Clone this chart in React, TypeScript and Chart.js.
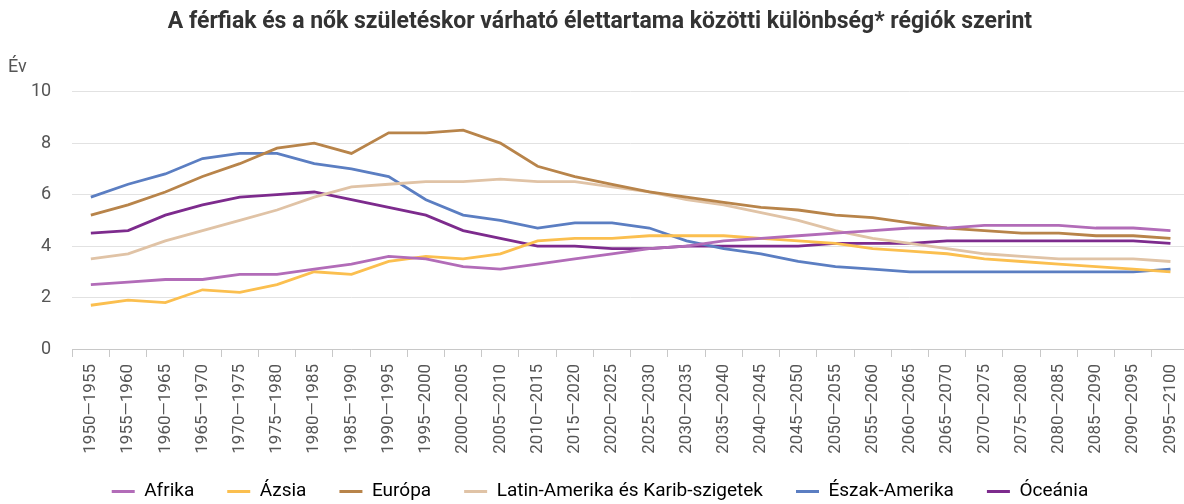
import React, { useEffect, useRef } from "react";
import { Chart, registerables } from "chart.js";

Chart.register(...registerables);

const periods = [
  "1950—1955", "1955—1960", "1960—1965", "1965—1970", "1970—1975", "1975—1980",
  "1980—1985", "1985—1990", "1990—1995", "1995—2000", "2000—2005", "2005—2010",
  "2010—2015", "2015—2020", "2020—2025", "2025—2030", "2030—2035", "2035—2040",
  "2040—2045", "2045—2050", "2050—2055", "2055—2060", "2060—2065", "2065—2070",
  "2070—2075", "2075—2080", "2080—2085", "2085—2090", "2090—2095", "2095—2100",
];

const afrika = [2.5, 2.6, 2.7, 2.7, 2.9, 2.9, 3.1, 3.3, 3.6, 3.5, 3.2, 3.1, 3.3, 3.5, 3.7, 3.9, 4.0, 4.2, 4.3, 4.4, 4.5, 4.6, 4.7, 4.7, 4.8, 4.8, 4.8, 4.7, 4.7, 4.6];
const azsia = [1.7, 1.9, 1.8, 2.3, 2.2, 2.5, 3.0, 2.9, 3.4, 3.6, 3.5, 3.7, 4.2, 4.3, 4.3, 4.4, 4.4, 4.4, 4.3, 4.2, 4.1, 3.9, 3.8, 3.7, 3.5, 3.4, 3.3, 3.2, 3.1, 3.0];
const europa = [5.2, 5.6, 6.1, 6.7, 7.2, 7.8, 8.0, 7.6, 8.4, 8.4, 8.5, 8.0, 7.1, 6.7, 6.4, 6.1, 5.9, 5.7, 5.5, 5.4, 5.2, 5.1, 4.9, 4.7, 4.6, 4.5, 4.5, 4.4, 4.4, 4.3];
const latinAmerika = [3.5, 3.7, 4.2, 4.6, 5.0, 5.4, 5.9, 6.3, 6.4, 6.5, 6.5, 6.6, 6.5, 6.5, 6.3, 6.1, 5.8, 5.6, 5.3, 5.0, 4.6, 4.3, 4.1, 3.9, 3.7, 3.6, 3.5, 3.5, 3.5, 3.4];
const eszakAmerika = [5.9, 6.4, 6.8, 7.4, 7.6, 7.6, 7.2, 7.0, 6.7, 5.8, 5.2, 5.0, 4.7, 4.9, 4.9, 4.7, 4.2, 3.9, 3.7, 3.4, 3.2, 3.1, 3.0, 3.0, 3.0, 3.0, 3.0, 3.0, 3.0, 3.1];
const oceania = [4.5, 4.6, 5.2, 5.6, 5.9, 6.0, 6.1, 5.8, 5.5, 5.2, 4.6, 4.3, 4.0, 4.0, 3.9, 3.9, 4.0, 4.0, 4.0, 4.0, 4.1, 4.1, 4.1, 4.2, 4.2, 4.2, 4.2, 4.2, 4.2, 4.1];

const seriesNames = ["Afrika", "Ázsia", "Európa", "Latin-Amerika és Karib-szigetek", "Észak-Amerika", "Óceánia"];
const seriesColors = ["#b26cb8", "#fbbf4f", "#b8844a", "#e0c3a6", "#5b7ec2", "#7d2b8d"];

const titleText = "A férfiak és a nők születéskor várható élettartama közötti különbség* régiók szerint";
const yUnit = "Év";
const yMin = 0;
const yMax = 10;
const yStep = 2;

const FONT = "Roboto, sans-serif";

export default function App() {
  const ref = useRef<HTMLCanvasElement>(null);

  useEffect(() => {
    if (!ref.current) return;
    const values = [afrika, azsia, europa, latinAmerika, eszakAmerika, oceania];

    const legendFix = {
      id: "legendFix",
      beforeInit(chart: any) {
        const legend = chart.legend;
        if (!legend) return;
        const origFit = legend.fit;
        legend.fit = function () {
          origFit.call(this);
          this.height = 43;
        };
        const origDraw = legend._draw;
        legend._draw = function (...args: any[]) {
          const c = this.ctx;
          c.save();
          c.translate(0, -12);
          origDraw.apply(this, args);
          c.restore();
        };
      },
    };

    const unitLabel = {
      id: "unitLabel",
      afterDraw(chart: any) {
        const c = chart.ctx;
        c.save();
        c.font = `18px ${FONT}`;
        c.fillStyle = "#555";
        c.textAlign = "left";
        c.textBaseline = "alphabetic";
        c.fillText(yUnit, 8, 72);
        c.restore();
      },
    };

    const chart = new Chart(ref.current, {
      type: "line",
      data: {
        labels: periods,
        datasets: seriesNames.map((name, i) => ({
          label: name,
          data: values[i],
          borderColor: seriesColors[i],
          backgroundColor: seriesColors[i],
          borderWidth: 2.8,
          pointRadius: 0,
          pointHoverRadius: 0,
          tension: 0,
          fill: false,
        })),
      },
      options: {
        responsive: false,
        animation: false,
        layout: { padding: { left: 10, right: 8, top: 0, bottom: 0 } },
        plugins: {
          title: {
            display: true,
            text: titleText,
            color: "#333",
            font: { family: FONT, size: 23, weight: "bold", lineHeight: 1.2 },
            padding: { top: 8, bottom: 56 },
          },
          legend: {
            display: true,
            position: "bottom",
            labels: {
              color: "#4d4d4d",
              font: { family: FONT, size: 19 },
              boxWidth: 23,
              boxHeight: 3,
              padding: 33,
              generateLabels(chart: any) {
                return chart.data.datasets.map((ds: any, i: number) => ({
                  text: ds.label,
                  fillStyle: ds.borderColor,
                  strokeStyle: ds.borderColor,
                  lineWidth: 0,
                  hidden: false,
                  datasetIndex: i,
                }));
              },
            },
          },
          tooltip: { enabled: false },
        },
        scales: {
          x: {
            offset: true,
            afterFit(scale: any) {
              scale.height = 112;
            },
            grid: {
              display: true,
              offset: true,
              drawOnChartArea: false,
              drawTicks: true,
              tickLength: 8,
              color: "#c8c8c8",
            },
            border: { display: true, color: "#c8c8c8", width: 1 },
            ticks: {
              autoSkip: false,
              minRotation: 90,
              maxRotation: 90,
              padding: 7,
              color: "#555",
              font: { family: FONT, size: 17 },
            },
          },
          y: {
            min: yMin,
            max: yMax,
            border: { display: false },
            grid: { color: "#e2e2e2", drawTicks: false, lineWidth: 1 },
            ticks: {
              stepSize: yStep,
              padding: 21,
              color: "#555",
              font: { family: FONT, size: 18 },
            },
          },
        },
      },
      plugins: [legendFix, unitLabel],
    });

    return () => chart.destroy();
  }, []);

  return (
    <div style={{ position: "absolute", left: 0, top: 0, width: 1184, height: 504, overflow: "hidden", background: "#fff" }}>
      <canvas ref={ref} width={1198} height={504} style={{ width: 1198, height: 504, display: "block" }} />
    </div>
  );
}
